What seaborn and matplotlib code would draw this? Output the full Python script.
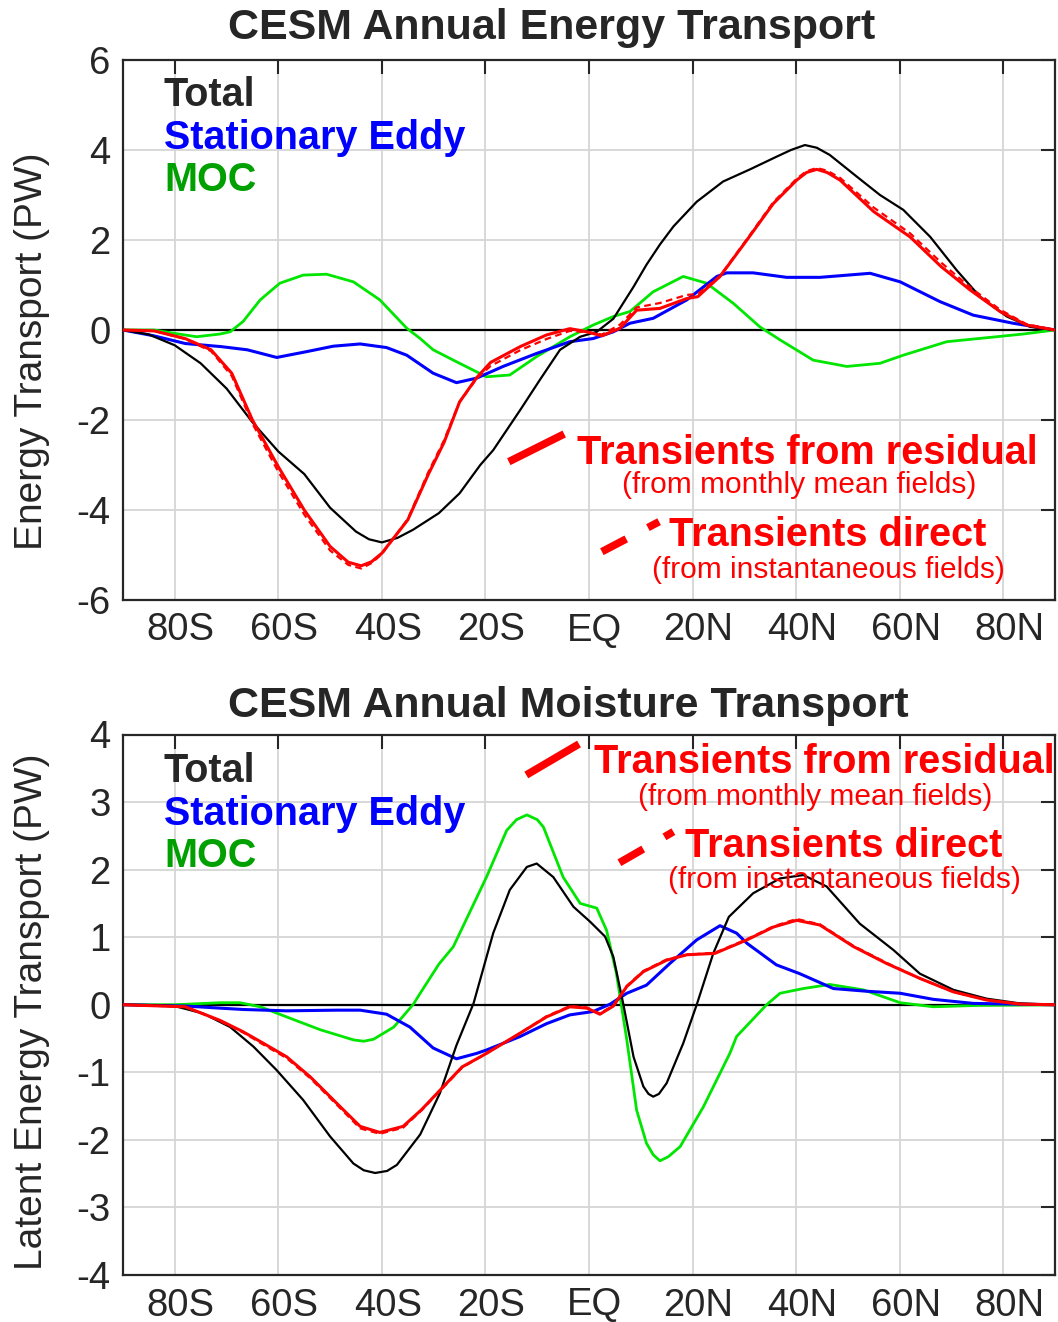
import numpy as np
import pandas as pd
import matplotlib
matplotlib.use("Agg")
import matplotlib.pyplot as plt
import matplotlib.transforms as mtransforms
from matplotlib.lines import Line2D
import seaborn as sns

# ---------------- DATA ----------------
xticks = [-80, -60, -40, -20, 0, 20, 40, 60, 80]
xlabels = ["80S", "60S", "40S", "20S", "EQ", "20N", "40N", "60N", "80N"]

# Top panel: Energy transport (PW)
e_tot_lat = [-90, -85, -80, -75, -70, -65, -60, -55, -50, -45, -42.5, -40, -37, -34, -29, -25, -21, -18.5, -13.3,
             -9.5, -5.6, -1.7, 1.5, 4.7, 8.6, 11.1, 13.7, 16.3, 20.8, 25.9, 31.1, 36.2, 39, 41.7, 44, 46.5, 51.7,
             56.2, 60.7, 65.9, 71.0, 75.5, 80.7, 85.2, 90]
e_tot = [0, -0.1, -0.34, -0.74, -1.3, -2.05, -2.7, -3.2, -3.95, -4.48, -4.65, -4.72, -4.62, -4.44, -4.07, -3.63,
         -3.0, -2.67, -1.78, -1.11, -0.44, -0.15, -0.04, 0.25, 0.96, 1.45, 1.9, 2.3, 2.85, 3.3, 3.57, 3.85, 4.0,
         4.11, 4.05, 3.89, 3.41, 3.0, 2.67, 2.07, 1.33, 0.74, 0.3, 0.07, 0]

e_res_lat = [-90, -84, -78, -73, -69, -65, -60, -55, -50, -46.5, -44, -42, -40, -35, -31, -28, -25, -21.7, -19,
             -13.3, -8.2, -3.7, -0.4, 2.5, 6.0, 9.2, 13.7, 18.9, 21, 25.3, 30.5, 35.6, 40.1, 42, 44, 46, 48.5, 55,
             62, 68, 73.6, 79.4, 84.5, 90]
e_res = [0, -0.02, -0.19, -0.44, -0.96, -2.0, -3.04, -4.0, -4.81, -5.16, -5.24, -5.15, -4.96, -4.22, -3.2, -2.5,
         -1.6, -1.06, -0.72, -0.37, -0.11, 0.03, -0.04, -0.13, 0.04, 0.44, 0.48, 0.70, 0.74, 1.19, 2.0, 2.81,
         3.33, 3.5, 3.57, 3.5, 3.33, 2.63, 2.07, 1.41, 0.89, 0.41, 0.11, 0]
e_dir = [0, -0.02, -0.2, -0.47, -1.02, -2.08, -3.15, -4.1, -4.9, -5.22, -5.3, -5.18, -4.98, -4.2, -3.15, -2.45,
         -1.6, -1.08, -0.8, -0.45, -0.2, -0.02, -0.05, -0.1, 0.12, 0.5, 0.6, 0.78, 0.8, 1.2, 2.02, 2.84, 3.36,
         3.53, 3.6, 3.54, 3.38, 2.72, 2.15, 1.5, 0.95, 0.45, 0.13, 0]

e_se_lat = [-90, -84, -78, -71, -66, -60.3, -54.5, -49.4, -44.2, -39.1, -35.2, -30.1, -25.6, -21.7, -16.6, -10.1,
            -3.7, 0.8, 4.7, 7.9, 12.4, 18.9, 24.7, 26.6, 31.7, 38.2, 44.6, 50, 54.3, 60.1, 67.8, 74.2, 81.9, 90]
e_se = [0, -0.13, -0.30, -0.37, -0.44, -0.61, -0.48, -0.36, -0.31, -0.39, -0.56, -0.96, -1.17, -1.07, -0.81,
        -0.52, -0.26, -0.19, -0.04, 0.15, 0.26, 0.67, 1.19, 1.27, 1.27, 1.17, 1.17, 1.22, 1.26, 1.07, 0.63, 0.33,
        0.15, 0]

e_moc_lat = [-90, -84, -80.3, -75.8, -71.3, -69.3, -66.8, -63.5, -59.7, -55.2, -50.7, -45.5, -40.4, -35.2, -32.6,
             -30.1, -26.2, -19.8, -15.3, -10.1, -3.7, 0.8, 4.7, 7.9, 12.4, 18.2, 22.7, 27.9, 33.0, 36.9, 43.3,
             49.8, 56.2, 60.7, 69.1, 78.7, 83.8, 90]
e_moc = [0, 0, -0.07, -0.15, -0.09, -0.04, 0.19, 0.67, 1.04, 1.22, 1.24, 1.07, 0.67, 0.04, -0.19, -0.44, -0.67,
         -1.04, -1.0, -0.59, -0.15, 0.11, 0.30, 0.41, 0.85, 1.19, 1.04, 0.59, 0.07, -0.22, -0.67, -0.81, -0.74,
         -0.56, -0.26, -0.15, -0.09, 0]

# Bottom panel: Latent energy (moisture) transport (PW)
m_tot_lat = [-90, -85, -80, -74.5, -69.3, -64.8, -60.3, -55.2, -50, -45.5, -43.5, -41.3, -39, -37.1, -32.6, -28.8,
             -25.6, -22.3, -18.5, -15.3, -12, -10.1, -6.9, -3, 0.2, 3.1, 4.7, 6.6, 8.6, 10.5, 11.5, 12.4, 13.5, 15,
             18.2, 20.8, 24, 27, 31.7, 36.9, 41.4, 45.9, 52.3, 58.8, 63.9, 70.4, 76.8, 83.2, 90]
m_tot = [0, -0.005, -0.02, -0.13, -0.33, -0.62, -0.97, -1.41, -1.95, -2.35, -2.45, -2.49, -2.46, -2.37, -1.92,
         -1.31, -0.6, 0.02, 1.06, 1.70, 2.04, 2.09, 1.89, 1.45, 1.23, 1.01, 0.71, 0.02, -0.77, -1.21, -1.32, -1.36,
         -1.32, -1.16, -0.57, 0.0, 0.76, 1.3, 1.65, 1.87, 1.92, 1.75, 1.20, 0.81, 0.46, 0.22, 0.09, 0.02, 0]

m_res_lat = [-90, -78, -71.3, -66.8, -62.9, -58.4, -53.8, -48.7, -44.2, -40.4, -35.9, -32.3, -28.1, -24.5, -19.8,
             -13.3, -8.2, -3.7, -0.4, 2.1, 4.7, 7.3, 10.5, 15, 18.9, 24.3, 30.5, 35.6, 40.1, 44.6, 51.1, 57.5, 63.9,
             70.4, 76.8, 83.2, 90]
m_res = [0, -0.03, -0.23, -0.40, -0.57, -0.77, -1.07, -1.46, -1.80, -1.89, -1.80, -1.55, -1.21, -0.92, -0.72,
         -0.42, -0.18, -0.03, -0.05, -0.14, -0.02, 0.27, 0.49, 0.66, 0.74, 0.76, 0.96, 1.15, 1.25, 1.18, 0.86,
         0.61, 0.39, 0.19, 0.07, 0.01, 0]
m_dir = [0, -0.03, -0.24, -0.41, -0.59, -0.79, -1.09, -1.48, -1.83, -1.91, -1.82, -1.56, -1.22, -0.93, -0.72,
         -0.42, -0.17, -0.02, -0.04, -0.13, -0.01, 0.28, 0.50, 0.67, 0.74, 0.77, 0.97, 1.16, 1.27, 1.19, 0.87,
         0.62, 0.39, 0.19, 0.07, 0.01, 0]

m_se_lat = [-90, -77.7, -71.3, -66.8, -58.4, -48.7, -44.2, -39.1, -34.6, -30.1, -25.6, -21.7, -19.8, -13.3, -8.2,
            -3.7, 0.8, 4.1, 7.3, 11.1, 15.6, 20.8, 25.3, 28.5, 30.5, 36.2, 40.7, 47.2, 53.6, 60.1, 66.5, 74.2, 90]
m_se = [0, -0.02, -0.05, -0.07, -0.09, -0.08, -0.08, -0.14, -0.33, -0.64, -0.80, -0.72, -0.67, -0.47, -0.28,
        -0.15, -0.10, 0.01, 0.17, 0.29, 0.61, 0.96, 1.17, 1.06, 0.91, 0.59, 0.46, 0.24, 0.20, 0.17, 0.08, 0.02, 0]

m_moc_lat = [-90, -80, -71.3, -67.4, -63.5, -58.4, -51.9, -45.5, -43.5, -41.6, -37.7, -33.9, -32.6, -29, -26.2,
             -19.8, -15.9, -14, -12, -10, -8.8, -5, -1.7, 1.5, 3.4, 5.3, 7.3, 9.2, 11.1, 12.4, 13.7, 15.3, 17.6, 22.1,
             27.2, 28.5, 34.3, 36.9, 41.4, 46.5, 53, 60.1, 66.5, 75, 90]
m_moc = [0, 0, 0.03, 0.03, -0.03, -0.18, -0.37, -0.52, -0.54, -0.51, -0.33, 0.01, 0.17, 0.6, 0.86, 1.89, 2.58,
         2.74, 2.81, 2.74, 2.63, 1.89, 1.50, 1.43, 1.10, 0.46, -0.52, -1.56, -2.05, -2.22, -2.31, -2.25, -2.10,
         -1.51, -0.72, -0.47, 0, 0.17, 0.24, 0.30, 0.22, 0.03, -0.03, -0.01, 0]

# ---------------- STYLE ----------------
sns.set_style("white")
plt.rcParams['font.family'] = ['Liberation Sans', 'DejaVu Sans']

W, H = 1058, 1322
fig = plt.figure(figsize=(W / 100, H / 100), dpi=100)

BLACK = "#000000"
BLUE = "#0000FF"
GREEN = "#00E600"
RED = "#FF0000"
TXT = "#262626"


def px_axes(left, top, right, bottom):
    return [left / W, 1 - bottom / H, (right - left) / W, (bottom - top) / H]


ax1 = fig.add_axes(px_axes(123, 60, 1055, 600))
ax2 = fig.add_axes(px_axes(123, 734.5, 1055, 1275))


def draw(ax, tot, se, moc, res, dr, ylim, yticks, ylabel, ylab_y):
    ax.set_xlim(-90, 90)
    ax.set_ylim(*ylim)
    ax.grid(True, color="#d6d6d6", lw=1.3)
    ax.set_axisbelow(True)
    ax.axhline(0, color="black", lw=1.6, zorder=2)
    sns.lineplot(x=moc[0], y=moc[1], color=GREEN, lw=2.0, ax=ax, zorder=3)
    sns.lineplot(x=se[0], y=se[1], color=BLUE, lw=2.2, ax=ax, zorder=3)
    sns.lineplot(x=tot[0], y=tot[1], color=BLACK, lw=1.6, ax=ax, zorder=4)
    sns.lineplot(x=res[0], y=res[1], color=RED, lw=2.2, ax=ax, zorder=5)
    sns.lineplot(x=dr[0], y=dr[1], color=RED, lw=1.6, ax=ax, zorder=5, linestyle=(0, (3, 2)))
    ax.set_xticks(xticks)
    ax.set_xticklabels(xlabels)
    ax.set_yticks(yticks)
    ax.set_yticklabels([str(t) for t in yticks])
    ax.tick_params(direction="in", length=10, width=1.5, top=True, right=True,
                   labelsize=27.5, pad=9, colors=TXT, labelcolor=TXT)
    for s in ax.spines.values():
        s.set_color(TXT)
        s.set_linewidth(1.6)
    ax.set_xlabel("")
    ax.set_ylabel(ylabel, fontsize=28, color=TXT)
    ax.yaxis.set_label_coords(-0.078, ylab_y)
    off = mtransforms.ScaledTranslation(6 / 100, 0, fig.dpi_scale_trans)
    for lab in ax.get_xticklabels():
        lab.set_transform(lab.get_transform() + off)


draw(ax1, (e_tot_lat, e_tot), (e_se_lat, e_se), (e_moc_lat, e_moc), (e_res_lat, e_res), (e_res_lat, e_dir),
     (-6, 6), [-6, -4, -2, 0, 2, 4, 6], "Energy Transport (PW)", 0.461)
draw(ax2, (m_tot_lat, m_tot), (m_se_lat, m_se), (m_moc_lat, m_moc), (m_res_lat, m_res), (m_res_lat, m_dir),
     (-4, 4), [-4, -3, -2, -1, 0, 1, 2, 3, 4], "Latent Energy Transport (PW)", 0.4875)


def ftext(x, y, s, **kw):
    fig.text(x / W, 1 - y / H, s, va="baseline", ha="left", **kw)


def fline(x1, y1, x2, y2, **kw):
    fig.add_artist(Line2D([x1 / W, x2 / W], [1 - y1 / H, 1 - y2 / H], transform=fig.transFigure,
                          solid_capstyle="butt", dash_capstyle="butt", **kw))


# titles
ftext(228, 39.3, "CESM Annual Energy Transport", fontsize=31, fontweight="bold", color=TXT)
ftext(228, 716.7, "CESM Annual Moisture Transport", fontsize=31, fontweight="bold", color=TXT)

# series labels
for dy in [2.5, 678.5]:
    ftext(164, 103.3 + dy, "Total", fontsize=28.5, fontweight="bold", color=TXT)
    ftext(164, 146.7 + dy, "Stationary Eddy", fontsize=28.5, fontweight="bold", color=BLUE)
    ftext(164, 188.3 + dy, "MOC", fontsize=28.5, fontweight="bold", color="#00A000")

# transient annotations - top
ftext(577, 463.5, "Transients from residual", fontsize=28.5, fontweight="bold", color=RED)
ftext(622, 493, "(from monthly mean fields)", fontsize=21.5, color=RED)
ftext(669, 545.5, "Transients direct", fontsize=28.5, fontweight="bold", color=RED)
ftext(652, 577.5, "(from instantaneous fields)", fontsize=21.5, color=RED)
fline(508.8, 461.7, 564.2, 434, color=RED, lw=5.5)
fline(601.9, 551.7, 659.1, 521.7, color=RED, lw=5.5, linestyle=(0, (3.6, 3.2)))

# transient annotations - bottom
ftext(594, 773, "Transients from residual", fontsize=28.5, fontweight="bold", color=RED)
ftext(638, 805, "(from monthly mean fields)", fontsize=21.5, color=RED)
ftext(685, 856.7, "Transients direct", fontsize=28.5, fontweight="bold", color=RED)
ftext(668, 888.5, "(from instantaneous fields)", fontsize=21.5, color=RED)
fline(526.3, 775, 579, 744, color=RED, lw=5.5)
fline(619.4, 862.7, 673.4, 831.7, color=RED, lw=5.5, linestyle=(0, (3.6, 3.2)))

fig.savefig("out.png", dpi=100)
